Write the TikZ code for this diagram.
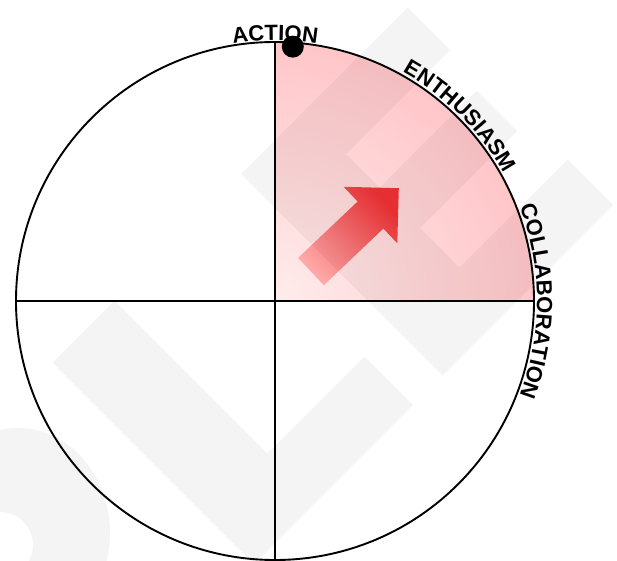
\documentclass[tikz,border=0pt]{standalone}
\usepackage{fontspec}
\setmainfont{Liberation Sans}
\usetikzlibrary{calc,positioning,decorations.text,shapes.geometric}
\pgfdeclarelayer{back}
\pgfsetlayers{back,main}
\definecolor{pinkdeep}{RGB}{255,180,184}
\definecolor{pinklight}{RGB}{255,236,236}
\definecolor{arrowtail}{RGB}{255,168,168}
\definecolor{arrowtip}{RGB}{240,50,54}
\newcommand{\rimfont}{\fontsize{22}{26}\selectfont\bfseries}
\tikzset{
  rim/.style={draw, circle, line width=1.9pt, inner sep=0pt, outer sep=0pt, minimum size=518pt},
  axisline/.style={line width=1.9pt},
  knob/.style={circle, fill=black, inner sep=0pt, minimum size=22pt},
  watermark/.style={fill=black, fill opacity=.045},
  rimlabel/.style={decorate, decoration={text along path, text align=center, text={|\rimfont|#1}}}
}

\begin{document}
\begin{tikzpicture}[x=1pt, y=1pt]
  \useasboundingbox (-275,-259) rectangle (342,301);

  \node [rim] at(0,0) (wheel) {};
  \draw [axisline] (wheel.north) -- (wheel.south);
  \draw [axisline] (wheel.west) -- (wheel.east);

  \begin{pgfonlayer}{back}
    % shaded quadrant
    \begin{scope}
      \clip (wheel.center) -- (wheel.north) arc [start angle=90, end angle=0, radius=259] -- cycle;
      \shade [inner color=pinklight, outer color=pinkdeep] (wheel.center) circle (380);
    \end{scope}

    \shade [top color=arrowtip, bottom color=arrowtail, shading angle=-46.5]
      (48.9,15.9) -- (108.3,72.4) -- (122.3,57.7) -- (123.8,112.8) -- (68.6,114.2) -- (82.6,99.5) -- (23.1,43.1) -- cycle;

    % watermark
    \begin{scope}[shift={(-275,301)}, x={(.5pt,.5pt)}, y={(.5pt,-.5pt)}]
      \fill [watermark] (-310,415) -- (-186,415) -- (-186,721) -- (8,721) -- (8,818) -- (-310,818) -- cycle;
      \fill [watermark] (67,415) -- (400,415) -- (400,500) -- (192,500) -- (192,567) -- (386,567)
        -- (386,648) -- (192,648) -- (192,727) -- (408,727) -- (408,818) -- (67,818) -- cycle;
    \end{scope}
    \fill [watermark, even odd rule] (-257,-232) ellipse [x radius=92, y radius=105] (-275,-244) circle (33);
  \end{pgfonlayer}

  \node [knob] at(86:255) (marker) {};

  \path [rimlabel=ACTION] (110:261) arc [start angle=110, end angle=70, radius=261];
  \path [rimlabel=ENTHUSIASM] (85:262) arc [start angle=85, end angle=5, radius=262];
  \path [rimlabel=COLLABORATION] (45:262) arc [start angle=45, end angle=-45, radius=262];

\end{tikzpicture}
\end{document}
